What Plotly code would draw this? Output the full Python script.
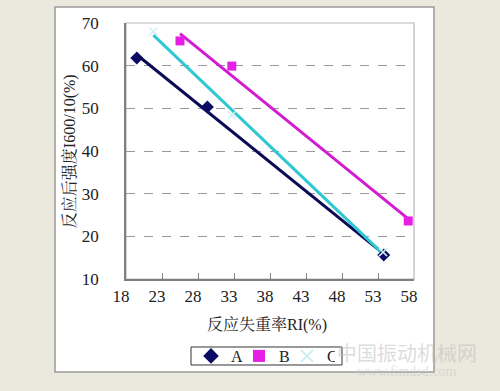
import numpy as np
import plotly.graph_objects as go

# ---- data ----
a_x = [19.5, 29.3, 53.8]
a_y = [61.8, 50.3, 15.6]
b_x = [25.5, 32.7, 57.2]
b_y = [65.8, 59.9, 23.6]
c_x = [21.8, 32.7, 53.7]
c_y = [68.0, 48.4, 16.3]
series_names = ["A", "B", "C"]
x_ticks = [18, 23, 28, 33, 38, 43, 48, 53, 58]
y_ticks = [10, 20, 30, 40, 50, 60, 70]
x_title = "反应失重率RI(%)"
y_title = "反应后强度I600/10(%)"

FONT = "Liberation Serif, Noto Serif CJK SC, Noto Sans CJK SC, serif"
colors = {"A": "#0b0b66", "B": "#e61ee6", "C": "#2ec8d2"}
line_colors = {"A": "#0b0b55", "B": "#d21cd2", "C": "#2ec8d2"}
symbols = {"A": "diamond", "B": "square", "C": "x-thin"}

fig = go.Figure()
data = {"A": (a_x, a_y), "B": (b_x, b_y), "C": (c_x, c_y)}

# trendlines (linear fit)
for name in series_names:
    xs, ys = data[name]
    k, b0 = np.polyfit(xs, ys, 1)
    xl = np.array([min(xs), max(xs)])
    fig.add_trace(go.Scatter(x=xl, y=k * xl + b0, mode="lines",
                             line=dict(color=line_colors[name], width=3),
                             showlegend=False, hoverinfo="skip"))

for name in series_names:
    xs, ys = data[name]
    if name == "C":
        mk = dict(symbol="x-thin", size=8, color="#cdeef2",
                  line=dict(color="#cdeef2", width=1.5))
    else:
        mk = dict(symbol=symbols[name], size=10 if name == "A" else 9,
                  color=colors[name], line=dict(width=0))
    fig.add_trace(go.Scatter(x=xs, y=ys, mode="markers", name=name, marker=mk))

# white chart area
fig.add_shape(type="rect", xref="paper", yref="paper",
              x0=-0.2465, x1=1.0694, y0=-0.3633, y1=1.0625,
              fillcolor="white", line=dict(color="#9a9a9a", width=1.5),
              layer="below")
# plot area border
fig.add_shape(type="rect", xref="paper", yref="paper",
              x0=0, x1=1, y0=0, y1=1,
              fillcolor="rgba(0,0,0,0)", line=dict(color="#b8b8b8", width=1.2),
              layer="below")
# legend frame
fig.add_shape(type="rect", xref="paper", yref="paper",
              x0=0.2257, x1=0.75, y0=-0.3359, y1=-0.2656,
              fillcolor="white", line=dict(color="#333", width=1),
              layer="below")

fig.add_annotation(text=y_title, xref="paper", yref="paper", x=-0.194, y=0.5,
                   textangle=-90, showarrow=False, xanchor="center", yanchor="middle",
                   font=dict(family=FONT, size=16, color="#222"))
fig.add_annotation(text=x_title, xref="paper", yref="paper", x=0.49, y=-0.18,
                   showarrow=False, xanchor="center", yanchor="middle",
                   font=dict(family=FONT, size=16, color="#222"))
# faint watermark
fig.add_annotation(text="中国振动机械网", xref="paper", yref="paper", x=0.975, y=-0.289,
                   showarrow=False, xanchor="center", yanchor="middle",
                   font=dict(family="Noto Sans CJK SC", size=20, color="rgba(185,185,185,0.5)"))
fig.add_annotation(text="www.fimdsd.com", xref="paper", yref="paper", x=0.975, y=-0.362,
                   showarrow=False, xanchor="center", yanchor="middle",
                   font=dict(family=FONT, size=14, color="rgba(195,195,195,0.5)"))

fig.update_layout(
    width=500, height=391,
    margin=dict(l=126, r=86, t=23, b=112, autoexpand=False),
    paper_bgcolor="#ebe9dd", plot_bgcolor="white",
    font=dict(family=FONT, size=17, color="#222"),
    xaxis=dict(range=[18, 58], tickvals=x_ticks, ticktext=[str(v) for v in x_ticks],
               showgrid=False, zeroline=False, showline=True, linecolor="#808080",
               linewidth=1.5, ticks="inside", ticklen=6, tickcolor="#808080",
               ticklabelstandoff=1, ticklabelshift=-5,
               tickfont=dict(family=FONT, size=17, color="#222")),
    yaxis=dict(range=[10, 70], tickvals=y_ticks, ticktext=[str(v) for v in y_ticks],
               showgrid=True, gridcolor="#9a9a9a", griddash="dash", gridwidth=1,
               zeroline=False, showline=True, linecolor="#808080", linewidth=1.5,
               ticks="", ticklabelstandoff=22,
               tickfont=dict(family=FONT, size=17, color="#222")),
    legend=dict(orientation="h", x=0.2257, y=-0.3008, xanchor="left", yanchor="middle",
                borderwidth=0, bgcolor="rgba(0,0,0,0)",
                font=dict(family=FONT, size=16, color="#222"),
                entrywidth=3, entrywidthmode="pixels",
                itemsizing="constant", tracegroupgap=0),
    showlegend=True,
)

fig.write_html("out.html", config={"displayModeBar": False},
               post_script="document.body.style.margin='0';document.body.style.overflow='hidden';")
